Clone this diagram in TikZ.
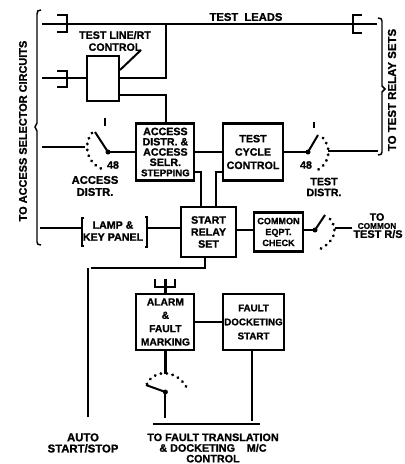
\documentclass[tikz,border=0pt]{standalone}
\usepackage{fontspec}
\setmainfont[BoldFeatures={FakeBold=1.2}]{Liberation Sans}
\tikzset{
  unit/.style={draw,line width=1.6pt,inner sep=0pt,align=center},
  lbl/.style={inner sep=0pt,align=center,font=\bfseries\fontsize{8}{9}\selectfont},
  wire/.style={line width=1.5pt},
  heavy/.style={line width=2pt},
  brk/.style={line width=1.1pt},
  contacts/.style={line width=2.3pt,dash pattern=on 0.1pt off 4.4pt,line cap=round}
}
\begin{document}
\begin{tikzpicture}[x=0.75pt,y=-0.75pt]
        \useasboundingbox (0,0) rectangle (404,464);
        % boxes
        \node[unit,minimum width=24pt,minimum height=33.75pt] (linert) at (103,78.5) {};
        \node[unit,minimum width=43.5pt,minimum height=42.75pt,font=\bfseries\fontsize{8}{7.7}\selectfont] (access) at (165.4,152) {ACCESS\\DISTR. \&\\ACCESS\\SELR.\\{\fontsize{7.2}{7.7}\selectfont STEPPING}};
        \node[unit,minimum width=45pt,minimum height=42.75pt,font=\bfseries\fontsize{8}{10}\selectfont] (cycle) at (253,152) {TEST\\CYCLE\\CONTROL};
        \node[unit,minimum width=41.25pt,minimum height=37.5pt,font=\bfseries\fontsize{8}{9}\selectfont] (relay) at (208.5,232) {START\\RELAY\\SET};
        \node[unit,minimum width=36.75pt,minimum height=29.25pt,font=\bfseries\fontsize{6.8}{8.2}\selectfont] (check) at (278.5,232) {COMMON\\EQPT.\\CHECK};
        \node[unit,minimum width=43.5pt,minimum height=42pt,font=\bfseries\fontsize{7.7}{10}\selectfont] (alarm) at (165.4,322) {ALARM\\\&\\FAULT\\MARKING};
        \node[unit,minimum width=45.75pt,minimum height=42pt,font=\bfseries\fontsize{7.3}{10.5}\selectfont] (docket) at (253.5,322) {FAULT\\DOCKETING\\START};
        % plain texts
        \node[lbl,font=\bfseries\fontsize{8.4}{9}\selectfont] (leadstxt) at (246,17) {TEST\ \ LEADS};
        \node[lbl] (linerttxt) at (115,41) {TEST LINE/RT\\CONTROL};
        \node[lbl,font=\bfseries\fontsize{8.4}{9}\selectfont] (accdistr) at (95,186) {ACCESS\\DISTR.};
        \node[lbl,font=\bfseries\fontsize{8}{8.2}\selectfont] (testdistr) at (324,187) {TEST\\DISTR.};
        \node[lbl] (no40) at (113,165) {48};
        \node[lbl] (no48) at (306,165) {48};
        \node[lbl] (lamp) at (113,231) {LAMP \&\\KEY PANEL};
        \node[lbl,font=\bfseries\fontsize{8.5}{8.4}\selectfont] (autotxt) at (83,443) {AUTO\\START/STOP};
        \node[lbl,font=\bfseries\fontsize{8.1}{8}\selectfont] (faulttxt) at (213,448) {TO FAULT TRANSLATION\\\& DOCKETING\hspace{1.1em}M/C\\CONTROL};
        \node[lbl,rotate=90,font=\bfseries\fontsize{8.2}{9}\selectfont] (leftside) at (23,131) {TO ACCESS SELECTOR CIRCUITS};
        \node[lbl,rotate=90,font=\bfseries\fontsize{8.6}{9}\selectfont] (rightside) at (392,90) {TO TEST RELAY SETS};
        \node[lbl] (totxt) at (377,217) {TO};
        \node[lbl,font=\bfseries\fontsize{6.2}{6}\selectfont] (commontxt) at (377,226) {COMMON};
        \node[lbl,font=\bfseries\fontsize{8.2}{9}\selectfont] (rstxt) at (378,234) {TEST R/S};
        % junction points
        \coordinate (leadsL) at (42,24);
        \coordinate (leadsR) at (377,24);
        \coordinate (tap) at (166,24);
        \coordinate (lineL) at (42,78);
        \coordinate (accin) at (42,147);
        \coordinate (accpiv) at (108,152);
        \coordinate (testpiv) at (308,152);
        \coordinate (testout) at (378,151);
        \coordinate (testfix) at (328,151);
        \coordinate (comfix) at (335,228);
        \coordinate (compiv) at (315,230);
        \coordinate (lampL) at (40,228);
        \coordinate (lampI) at (81,228);
        \coordinate (lampO) at (147,228);
        \coordinate (autotop) at (88,268);
        \coordinate (autoend) at (88,417);
        \coordinate (forktop) at (165.4,279);
        \coordinate (almarc) at (165.4,374);
        \coordinate (almpiv) at (165.4,392);
        \coordinate (almend) at (165.4,418);
        \coordinate (dockend) at (252,421);
        % test leads
        \draw[wire] (leadsL) -- (leadsR);
        \draw[wire] (57,15) -- (67,15) -- (67,32) -- (57,32);
        \draw[wire] (362,15) -- (353,15) -- (353,33) -- (362,33);
        \draw[wire] (lineL) -- (linert.west |- lineL);
        \draw[wire] (57,71) -- (67,71) -- (67,87) -- (57,87);
        \draw[wire] (linert.east |- lineL) -| (tap);
        \draw[wire] (linert.east |- 0,95) -| (access.north -| tap);
        \draw[wire] (141,50) -- (120,70);
        % access switch
        \draw[heavy] (accin) -- (85,147);
        \draw[contacts] (92,133) .. controls (82,146) and (88,164) .. (102,169);
        \draw[wire] (accpiv) -- (95,132);
        \draw[wire] (105,118) -- (105,126);
        \fill (accpiv) circle (2.5);
        \draw[wire] (accpiv) -- (access.west |- accpiv);
        % test switch
        \draw[wire] (access.east) -- (cycle.west);
        \draw[wire] (cycle.east) -- (testpiv);
        \draw[wire] (testpiv) -- (318,135);
        \draw[wire] (314,122) -- (314,128);
        \fill (testpiv) circle (2.5);
        \draw[contacts] (323,138) .. controls (333,150) and (329,165) .. (314,172);
        \draw[wire] (testfix) -- (testout);
        % to start relay
        \draw[wire] (access.east |- 0,172) -| (relay.north -| 201,0);
        \draw[wire] (cycle.west |- 0,172) -| (relay.north -| 216,0);
        \draw[wire] (relay.east |- 0,230) -- (check.west |- 0,230);
        \draw[wire] (check.east |- compiv) -- (compiv);
        \draw[wire] (compiv) -- (325,215);
        \fill (compiv) circle (2.5);
        \draw[contacts] (330,219) .. controls (338,228) and (336,242) .. (318,250);
        \draw[wire] (comfix) -- (352,228);
        % lamp panel
        \draw[wire] (lampL) -- (lampI);
        \draw[wire] (lampO) -- (relay.west |- lampO);
        \draw[brk] (84,218) -- (82,218) -- (82,246) -- (84,246);
        \draw[brk] (145,217) -- (147,217) -- (147,247) -- (145,247);
        % auto start stop
        \draw[wire] (relay.south -| 205,0) |- (91,268);
        \draw[heavy] (autotop) -- (autoend);
        % alarm
        \draw[heavy] (alarm) -- (forktop);
        \draw[wire] (155,279) -- (155,287) -- (175,287) -- (175,279);
        \draw[wire] (alarm.east) -- (docket.west);
        \draw[heavy] (alarm) -- (almarc);
        \draw[contacts] (147,384) .. controls (153,370) and (176,368) .. (187,388);
        \draw[wire] (almpiv) -- (146,385);
        \fill (almpiv) circle (2.5);
        \draw[wire] (almpiv) -- (almend);
        \draw[wire] (docket.south -| dockend) -- (dockend);
        \draw[wire] (153,424) -- (260,424);
        % side brackets
        \draw[brk] (41,10) .. controls (38,10) and (37,11) .. (37,14) -- (37,123) -- (35,127) -- (37,131) -- (37,242) .. controls (37,244) and (38,245) .. (41,245);
        \draw[brk] (378,18) .. controls (381,18) and (382,19) .. (382,21) -- (382,86) -- (385,89) -- (382,92) -- (382,152) .. controls (382,154) and (381,155) .. (378,155);
\end{tikzpicture}
\end{document}
